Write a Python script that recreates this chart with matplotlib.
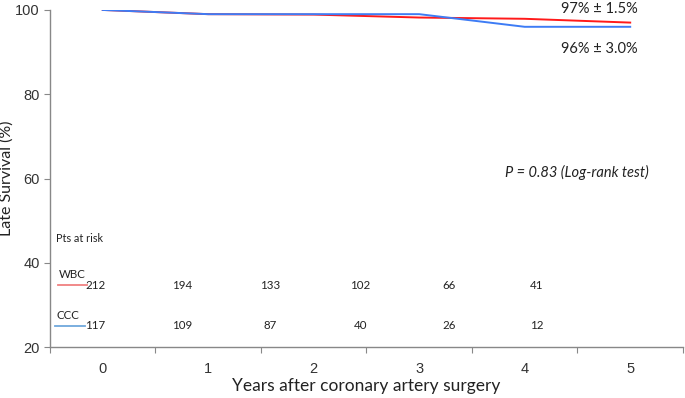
import numpy as np
import matplotlib
matplotlib.use("Agg")
import matplotlib.pyplot as plt

# survival curves (% alive) read at each year
years = [0, 1, 2, 3, 4, 5]
wbc_surv = [100.0, 99.0, 98.9, 98.2, 97.9, 97.0]
ccc_surv = [100.0, 99.0, 99.0, 99.0, 96.0, 96.0]

# patients at risk table
risk_x = [-0.07, 0.75, 1.59, 2.44, 3.28, 4.11]
wbc_risk = [212, 194, 133, 102, 66, 41]
ccc_risk = [117, 109, 87, 40, 26, 12]

yticks = [20, 40, 60, 80, 100]

calibri = ["Lato", "DejaVu Sans"]
arial = ["Liberation Sans", "DejaVu Sans"]

fig = plt.figure(figsize=(6.85, 3.98), dpi=100)
ax = fig.add_axes([0.073, 0.128, 0.924, 0.847])

ax.plot(years, wbc_surv, color="#ff1a1a", lw=1.4, zorder=3)
ax.plot(years, ccc_surv, color="#3d7cf5", lw=1.4, zorder=4)

ax.set_xlim(-0.5, 5.5)
ax.set_ylim(20, 100)

# category-style axis: tick marks between labels
ax.set_xticks(np.arange(-0.5, 6.0, 1.0))
ax.set_xticklabels([])
ax.set_xticks(years, minor=True)
ax.set_xticklabels([str(y) for y in years], minor=True, fontsize=10.5, family=arial)
ax.tick_params(axis="x", which="minor", length=0, pad=11, colors="#333333")
ax.tick_params(axis="x", which="major", length=4, color="#888888", direction="out")

ax.set_yticks(yticks)
ax.set_yticklabels([str(v) for v in yticks], fontsize=10.5, family=arial)
ax.tick_params(axis="y", length=4, color="#888888", colors="#333333")

for s in ["top", "right"]:
    ax.spines[s].set_visible(False)
for s in ["left", "bottom"]:
    ax.spines[s].set_color("#888888")
    ax.spines[s].set_linewidth(1.0)

ax.set_ylabel("Late Survival (%)", fontsize=11.5, family=calibri, color="#222222")
ax.yaxis.set_label_coords(-0.058, 0.5)
ax.set_xlabel("Years after coronary artery surgery", fontsize=12.5, family=calibri, color="#222222", labelpad=1)

ax.text(5.07, 100.3, "97% \u00b1 1.5%", fontsize=10.5, family=calibri, ha="right", va="center", color="#222222")
ax.text(5.07, 90.7, "96% \u00b1 3.0%", fontsize=10.5, family=calibri, ha="right", va="center", color="#222222")
ax.text(4.49, 61.5, "P = 0.83 (Log-rank test)", fontsize=10.5, family=calibri, style="italic",
        ha="center", va="center", color="#222222")

# numbers at risk
ax.text(-0.44, 45.8, "Pts at risk", fontsize=7.8, family=calibri, ha="left", va="center", color="#222222")
ax.text(-0.42, 37.3, "WBC", fontsize=8.3, family=calibri, ha="left", va="center", color="#222222")
ax.plot([-0.42, -0.145], [34.7, 34.7], color="#f08080", lw=1.3, clip_on=False)
ax.text(-0.44, 27.6, "CCC", fontsize=8.3, family=calibri, ha="left", va="center", color="#222222")
ax.plot([-0.45, -0.17], [25.0, 25.0], color="#6fa8dc", lw=1.3, clip_on=False)
for x, a, b in zip(risk_x, wbc_risk, ccc_risk):
    ax.text(x, 34.7, str(a), fontsize=8.3, family=calibri, ha="center", va="center", color="#222222")
    ax.text(x, 25.2, str(b), fontsize=8.3, family=calibri, ha="center", va="center", color="#222222")

fig.savefig("out.png", dpi=100)
